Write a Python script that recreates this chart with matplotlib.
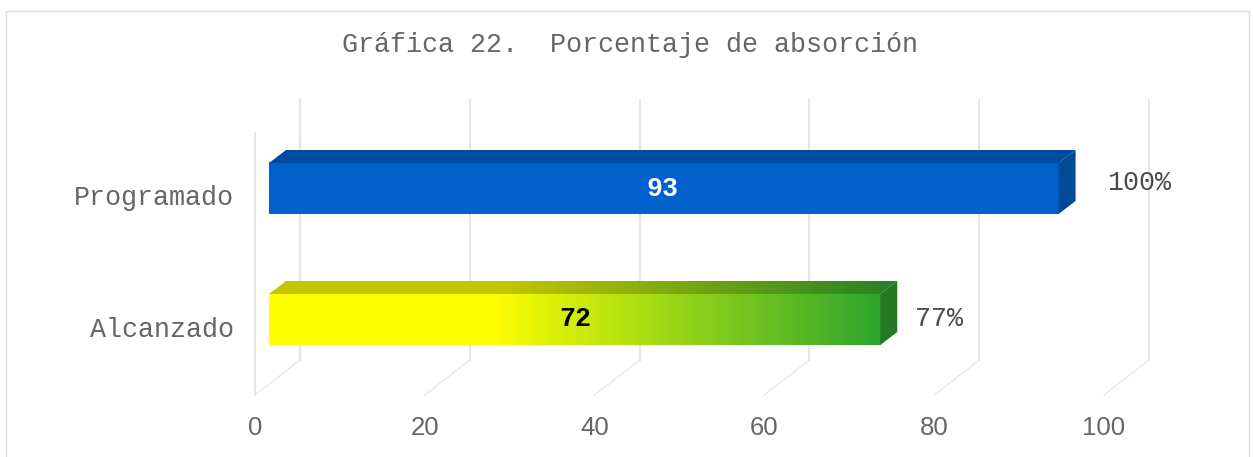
import matplotlib
matplotlib.use('Agg')
import matplotlib.pyplot as plt
from matplotlib.colors import LinearSegmentedColormap
from matplotlib.patches import Polygon
import numpy as np

title = 'Gráfica 22.  Porcentaje de absorción'
categories = ['Programado', 'Alcanzado']
values = [93, 72]
percent_labels = ['100%', '77%']
x_ticks = [0, 20, 40, 60, 80, 100]

W, H = 1253, 457
# plot box in pixels: x value 0..100, y is pixels from the floor up
left, right, floor, wall_top = 255, 1104, 395, 133

fig = plt.figure(figsize=(W / 100, H / 100), dpi=100)
ax = fig.add_axes([left / W, 1 - floor / H, (right - left) / W, (floor - wall_top) / H])
ax.set_xlim(0, 100)
ax.set_ylim(0, floor - wall_top)
ax.axis('off')

ux = 100 / (right - left)  # one pixel in x units


def px(v, dx=0):
    return v + dx * ux


# frame of the picture
fig.add_artist(plt.Line2D([5.5 / W, 5.5 / W, 1248.5 / W, 1248.5 / W],
                          [0, 1 - 10.5 / H, 1 - 10.5 / H, 0], color='#dcdcdc', lw=1.0))

# grid: walls and floor lines
grid_col = '#e6e6e6'
for t in x_ticks:
    ax.plot([px(t, 45), px(t, 45)], [35, 295], color=grid_col, lw=1.5, clip_on=False, zorder=1)
    ax.plot([px(t), px(t, 45)], [0, 35], color='#e8e8e8', lw=1.0, clip_on=False, zorder=1)
ax.plot([0, 0], [0, 262], color=grid_col, lw=1.5, clip_on=False, zorder=1)

blue_map = LinearSegmentedColormap.from_list('blue', ['#0060cc', '#0060cc'])
green_map = LinearSegmentedColormap.from_list(
    'yg', [(0, '#ffff00'), (0.36, '#ffff00'), (0.62, '#a8dc14'), (1, '#2ea52e')])
bar_maps = [blue_map, green_map]
end_cols = ['#004a96', '#237a23']
bar_bottom = [181, 50]
bar_h = 51
start = 14
depth_x, depth_y = 17, 13

grad = np.linspace(0, 1, 256).reshape(1, -1)
for i, v in enumerate(values):
    b = bar_bottom[i]
    x0, x1 = px(0, start), px(v, start)
    # front
    ax.imshow(grad, cmap=bar_maps[i], extent=[x0, x1, b, b + bar_h], aspect='auto', zorder=3,
              interpolation='bilinear')
    # top face is the same gradient, darker
    top = bar_maps[i](grad)[:, :, :3] * 0.78
    im = ax.imshow(top, extent=[x0, px(x1, depth_x), b + bar_h, b + bar_h + depth_y], aspect='auto',
                   zorder=3, interpolation='bilinear')
    im.set_clip_path(Polygon([[x0, b + bar_h], [x1, b + bar_h], [px(x1, depth_x), b + bar_h + depth_y],
                              [px(x0, depth_x), b + bar_h + depth_y]], transform=ax.transData))
    # right end
    ax.add_patch(Polygon([[x1, b], [px(x1, depth_x), b + depth_y], [px(x1, depth_x), b + bar_h + depth_y],
                          [x1, b + bar_h]], facecolor=end_cols[i], edgecolor='none', zorder=3))

ax.set_xlim(0, 100)
ax.set_ylim(0, floor - wall_top)

mono = 'Liberation Mono'
fig.text(630 / W, 1 - 45 / H, title, family=mono, fontsize=19.25, color='#666666', ha='center', va='center')
cat_y = [198, 330]
for c, y in zip(categories, cat_y):
    fig.text(233.5 / W, 1 - y / H, c, family=mono, fontsize=19.3, color='#666666', ha='right', va='center')
for t in x_ticks:
    fig.text((left + t * (right - left) / 100) / W, 1 - 428 / H, str(t), family='Liberation Sans',
             fontsize=18.5, color='#666666', ha='center', va='center')
val_pos = [(663, 189), (575, 319)]
val_cols = ['white', 'black']
for v, (x, y), c in zip(values, val_pos, val_cols):
    fig.text(x / W, 1 - y / H, str(v), family=mono, fontsize=19.2, weight='bold', color=c, ha='center', va='center')
pct_pos = [(1139, 183), (939, 319)]
for s, (x, y) in zip(percent_labels, pct_pos):
    fig.text(x / W, 1 - y / H, s, family=mono, fontsize=19.2, color='#4a4a4a', ha='center', va='center', zorder=5)

fig.savefig('out.png', dpi=100)
